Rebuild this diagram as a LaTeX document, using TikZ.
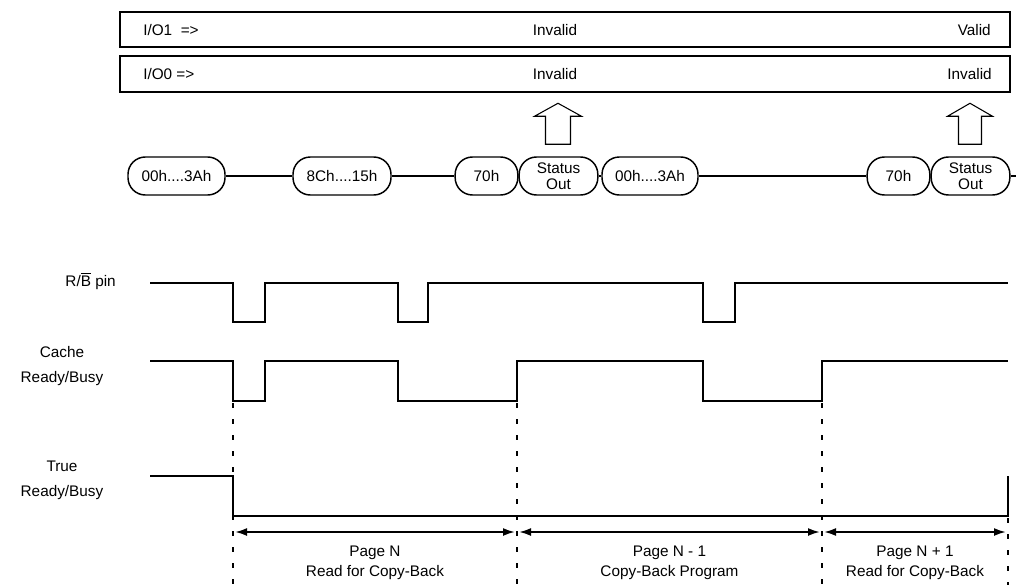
\documentclass[tikz,border=0pt]{standalone}
\usepackage{fontspec}
\setmainfont{Liberation Sans}
\usetikzlibrary{arrows.meta,positioning,calc}
\tikzset{
  lbl/.style={font=\fontsize{11.5}{13.8}\selectfont, inner sep=0pt},
  cmd/.style={draw, line width=1.1pt, rounded corners=13pt, minimum height=28.5pt,
    inner sep=1pt, align=center, font=\fontsize{11.5}{12}\selectfont},
  frame/.style={line width=1.5pt},
  sig/.style={line width=1.5pt},
  marker/.style={line width=1.5pt, dash pattern=on 3.75pt off 8.25pt},
  dim/.style={line width=1.5pt, {Latex[length=9pt,width=6pt]}-{Latex[length=9pt,width=6pt]}, shorten <=1.5pt, shorten >=1.5pt},
  hollow/.style={line width=0.8pt, fill=white}
}
\begin{document}
\begin{tikzpicture}[x=0.75pt,y=-0.75pt]
  \useasboundingbox (0,0) rectangle (1016,585);
  % Bus
  \draw[frame] (120,12) rectangle (1010,47);
  \draw[frame] (120,56) rectangle (1010,92);
  \node[lbl, anchor=west] (io1) at (143,30) {I/O1~~=>};
  \node[lbl] (io1a) at (555,30) {Invalid};
  \node[lbl, anchor=east] (io1b) at (991,30) {Valid};
  \node[lbl, anchor=west] (io0) at (143,74) {I/O0 =>};
  \node[lbl] (io0a) at (555,74) {Invalid};
  \node[lbl, anchor=east] (io0b) at (992,74) {Invalid};
  % Comandos
  \node[cmd, minimum width=72.75pt] (c1) at (176.5,176) {00h....3Ah};
  \node[cmd, minimum width=73.5pt] (c2) at (342,176) {8Ch....15h};
  \node[cmd, minimum width=47pt] (c3) at (486.5,176) {70h};
  \node[cmd, minimum width=59pt] (so1) at (558.5,176) {Status\\Out};
  \node[cmd, minimum width=72pt] (c4) at (650,176) {00h....3Ah};
  \node[cmd, minimum width=47pt] (c5) at (898.5,176) {70h};
  \node[cmd, minimum width=59pt] (so2) at (970.5,176) {Status\\Out};
  \coordinate (lineend) at (1016,176);
  \draw[line width=1.1pt] (c1) -- (c2) (c2) -- (c3) (so1) -- (c4) (c4) -- (c5) (so2.east) -- (lineend);
  \draw[hollow] ($(so1.north)+(-13,-12)$) -- ++(0,-28) -- ++(-11,0) -- ++(23.5,-13)
    -- ++(23.5,13) -- ++(-11,0) -- ++(0,28) -- cycle;
  \draw[hollow] ($(so2.north)+(-12,-12)$) -- ++(0,-28) -- ++(-11,0) -- ++(22.5,-13)
    -- ++(22.5,13) -- ++(-11,0) -- ++(0,28) -- cycle;
  % Señales
  \node[lbl, anchor=east] (rb) at (116,281) {R/$\overline{\mbox{B}}$ pin};
  \node[lbl, align=center, font=\fontsize{11.5}{19}\selectfont] (crb) at (62,366) {Cache\\Ready/Busy};
  \node[lbl, align=center, font=\fontsize{11.5}{19}\selectfont] (trb) at (62,480) {True\\Ready/Busy};
  \draw[sig] (150,283) -| (233,322) -| (265,283) -| (398,322) -| (428,283) -| (703,322) -| (735,283) -- (1008,283);
  \draw[sig] (150,361) -| (233,401) -| (265,361) -| (398,401) -| (517,361) -| (703,401) -| (822,361) -- (1008,361);
  \draw[sig] (150,476) -| (233,516) -| (1008,476);
  % Cotas
  \coordinate (t1) at (233,532);
  \coordinate (t2) at (517,532);
  \coordinate (t3) at (822,532);
  \coordinate (t4) at (1008,532);
  \draw[marker] (233,403) -- (233,585);
  \draw[marker] (517,403) -- (517,585);
  \draw[marker] (822,403) -- (822,585);
  \draw[marker] (1008,518) -- (1008,585);
  \draw[dim] (t1) -- (t2);
  \draw[dim] (t2) -- (t3);
  \draw[dim] (t3) -- (t4);
  \node[lbl, align=center, font=\fontsize{11.5}{15}\selectfont] (p1) at (375,563) {Page N\\Read for Copy-Back};
  \node[lbl, align=center, font=\fontsize{11.5}{15}\selectfont] (p2) at (669.5,563) {Page N - 1\\Copy-Back Program};
  \node[lbl, align=center, font=\fontsize{11.5}{15}\selectfont] (p3) at (915,563) {Page N + 1\\Read for Copy-Back};
\end{tikzpicture}
\end{document}
